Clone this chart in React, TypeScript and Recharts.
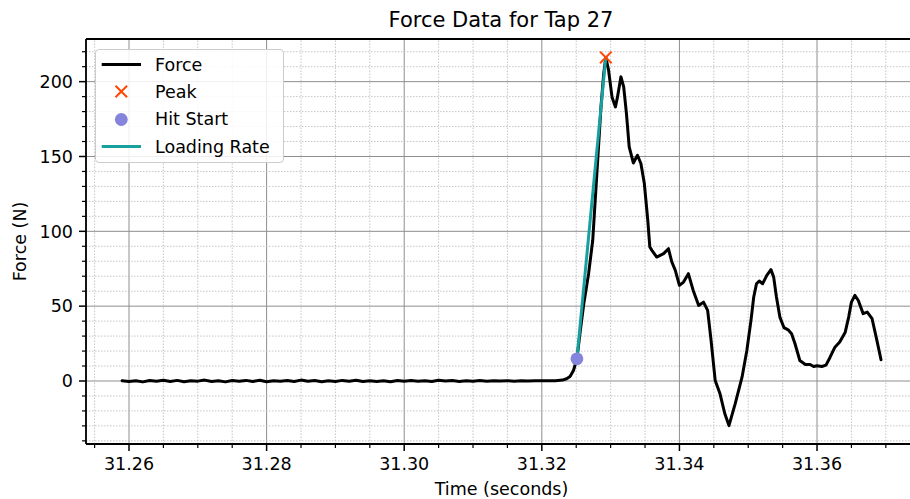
import React from 'react';
import { ComposedChart, Line, Scatter, XAxis, YAxis, CartesianGrid, ReferenceLine, Legend } from 'recharts';

const FONT = '"DejaVu Sans", sans-serif';

// force trace (time in s, force in N)
const forceTime = [
  31.259, 31.26, 31.261, 31.262, 31.263, 31.264, 31.265, 31.266, 31.267, 31.268,
  31.269, 31.27, 31.271, 31.272, 31.273, 31.274, 31.275, 31.276, 31.277, 31.278,
  31.279, 31.28, 31.281, 31.282, 31.283, 31.284, 31.285, 31.286, 31.287, 31.288,
  31.289, 31.29, 31.291, 31.292, 31.293, 31.294, 31.295, 31.296, 31.297, 31.298,
  31.299, 31.3, 31.301, 31.302, 31.303, 31.304, 31.305, 31.306, 31.307, 31.308,
  31.309, 31.31, 31.311, 31.312, 31.313, 31.314, 31.315, 31.316, 31.317, 31.318,
  31.319, 31.32, 31.321, 31.322, 31.323,
  31.3236, 31.3241, 31.3246, 31.3251, 31.3256, 31.3261, 31.3268, 31.3274, 31.3277, 31.328,
  31.3283, 31.3286, 31.329, 31.3293, 31.3297, 31.3302, 31.3307, 31.331, 31.3315, 31.3319,
  31.3323, 31.3327, 31.3333, 31.3339, 31.3344, 31.3349, 31.3354, 31.3357, 31.336, 31.3367,
  31.3377, 31.3384, 31.3389, 31.3394, 31.34, 31.3406, 31.3413, 31.342, 31.3428, 31.3435,
  31.3441, 31.3446, 31.3452, 31.3459, 31.3466, 31.3472, 31.3481, 31.3491, 31.3498, 31.3504,
  31.3508, 31.3512, 31.3516, 31.3521, 31.3527, 31.3533, 31.3537, 31.3541, 31.3546, 31.3552,
  31.3558, 31.3563, 31.3568, 31.3575, 31.3583, 31.359, 31.3595, 31.36, 31.3607, 31.3613,
  31.3619, 31.3626, 31.3633, 31.3641, 31.3646, 31.365, 31.3655, 31.366, 31.3667, 31.3673,
  31.368, 31.3687, 31.3693,
];
const forceValue = [
  0.2, -0.4, 0.1, -0.6, 0.3, -0.2, 0.5, -0.3, 0.4, -0.5,
  0.2, -0.1, 0.6, -0.4, 0.1, -0.6, 0.3, -0.2, 0.4, -0.3,
  0.5, -0.5, 0.2, -0.1, 0.3, -0.4, 0.6, -0.2, 0.3, -0.5,
  0.1, -0.3, 0.4, -0.2, 0.5, -0.4, 0.2, -0.3, 0.1, -0.5,
  0.3, -0.2, 0.4, -0.1, 0.2, -0.4, 0.5, 0.0, 0.3, -0.3,
  0.2, -0.2, 0.3, -0.1, 0.2, 0.0, 0.2, -0.1, 0.1, 0.0,
  0.2, 0.1, 0.1, 0.2, 0.6,
  1.5, 3.0, 7.0, 14.8, 33.8, 51.6, 71.7, 94.0, 116.3, 138.6,
  160.9, 183.1, 205.5, 216.2, 207.7, 189.8, 183.1, 189.8, 203.2, 196.5,
  178.7, 156.4, 145.7, 150.8, 145.3, 131.9, 107.4, 89.5, 87.3, 82.8,
  85.1, 88.4, 79.5, 73.9, 63.9, 66.1, 71.7, 60.5, 50.5, 52.7,
  47.2, 27.1, 0.3, -8.6, -21.9, -29.8, -15.3, 2.5, 20.4, 40.5,
  56.1, 65.0, 66.8, 65.0, 70.6, 74.4, 69.4, 56.1, 42.7, 35.6,
  34.2, 31.6, 24.9, 13.7, 11.0, 11.0, 9.7, 10.2, 9.7, 10.6,
  15.9, 22.6, 26.0, 32.6, 42.7, 52.7, 57.2, 53.8, 45.0, 46.0,
  41.6, 27.1, 14.2,
];

const peakTime = 31.3293;
const peakForce = 216.2;
const hitTime = 31.3251;
const hitForce = 14.8;

const xTicks = [31.26, 31.28, 31.3, 31.32, 31.34, 31.36];
const xMinorTicks = [
  31.255, 31.265, 31.27, 31.275, 31.285, 31.29, 31.295, 31.305, 31.31,
  31.315, 31.325, 31.33, 31.335, 31.345, 31.35, 31.355, 31.365, 31.37,
];
const yTicks = [0, 50, 100, 150, 200];
const yMinorTicks = [
  -40, -30, -20, -10, 10, 20, 30, 40, 60, 70, 80, 90, 110, 120, 130, 140,
  160, 170, 180, 190, 210, 220,
];

const xDomain: [number, number] = [31.25375, 31.37453];
const yDomain: [number, number] = [-42.1, 228.5];

const forceData = forceTime.map((t, i) => ({ time: t, force: forceValue[i] }));
const loadingData = [
  { time: hitTime, force: hitForce },
  { time: peakTime, force: peakForce },
];

const CHART_W = 930;
const CHART_H = 499;
const MARGIN = { top: 39, right: 13, bottom: 0, left: 0 };
const Y_AXIS_W = 86;
const X_AXIS_H = 55;
const PLOT_W = CHART_W - MARGIN.left - MARGIN.right - Y_AXIS_W;
const PLOT_H = CHART_H - MARGIN.top - MARGIN.bottom - X_AXIS_H;

// minor tick length (4px) expressed in data units
const xTickLen = (4 * (yDomain[1] - yDomain[0])) / PLOT_H;
const yTickLen = (4 * (xDomain[1] - xDomain[0])) / PLOT_W;

const TEAL = '#17a09e';
const ORANGE = '#ff4500';
const PURPLE = '#8484dc';

const PeakMark = (props: any) => {
  const { cx, cy } = props;
  if (cx == null || cy == null) return null;
  const s = 5.8;
  return (
    <g stroke={ORANGE} strokeWidth={2}>
      <line x1={cx - s} y1={cy - s} x2={cx + s} y2={cy + s} />
      <line x1={cx - s} y1={cy + s} x2={cx + s} y2={cy - s} />
    </g>
  );
};

const HitMark = (props: any) => {
  const { cx, cy } = props;
  if (cx == null || cy == null) return null;
  return <circle cx={cx} cy={cy} r={6.4} fill={PURPLE} />;
};

const legendItems = [
  { label: 'Force', kind: 'line', color: '#000' },
  { label: 'Peak', kind: 'x', color: ORANGE },
  { label: 'Hit Start', kind: 'dot', color: PURPLE },
  { label: 'Loading Rate', kind: 'line', color: TEAL },
];

const LegendBox = () => (
  <div
    style={{
      width: 189,
      height: 114,
      boxSizing: 'border-box',
      border: '1px solid #cccccc',
      borderRadius: 4,
      background: 'rgba(255,255,255,0.85)',
      fontFamily: FONT,
      fontSize: 17.5,
      paddingTop: 1,
      color: '#000',
    }}
  >
    {legendItems.map(item => (
      <div key={item.label} style={{ display: 'flex', alignItems: 'center', height: 27.3 }}>
        <svg width={59} height={27} style={{ flexShrink: 0 }}>
          {item.kind === 'line' && (
            <line x1={5.7} x2={45} y1={13.5} y2={13.5} stroke={item.color} strokeWidth={3} />
          )}
          {item.kind === 'x' && (
            <g stroke={item.color} strokeWidth={2}>
              <line x1={19.5} y1={7.7} x2={31.1} y2={19.3} />
              <line x1={19.5} y1={19.3} x2={31.1} y2={7.7} />
            </g>
          )}
          {item.kind === 'dot' && <circle cx={25.3} cy={13.5} r={6.4} fill={item.color} />}
        </svg>
        <span style={{ lineHeight: '20px' }}>{item.label}</span>
      </div>
    ))}
  </div>
);

const axisText = { fontFamily: FONT, fontSize: 17.5, fill: '#000' };

export default function App() {
  return (
    <div
      style={{
        position: 'absolute',
        left: 0,
        top: 0,
        width: 910,
        height: 499,
        overflow: 'hidden',
        background: '#fff',
      }}
    >
      <div
        style={{
          position: 'absolute',
          left: 301,
          width: 400,
          top: 6,
          height: 28,
          lineHeight: '28px',
          textAlign: 'center',
          fontFamily: FONT,
          fontSize: 21,
          color: '#000',
          zIndex: 2,
        }}
      >
        Force Data for Tap 27
      </div>
      <ComposedChart width={CHART_W} height={CHART_H} margin={MARGIN}>
        <CartesianGrid stroke="#8e8e8e" strokeWidth={1} />
        {xMinorTicks.map(v => (
          <ReferenceLine key={'gx' + v} x={v} stroke="#b8b8b8" strokeWidth={0.8} strokeDasharray="1.5 1.5" />
        ))}
        {yMinorTicks.map(v => (
          <ReferenceLine key={'gy' + v} y={v} stroke="#b8b8b8" strokeWidth={0.8} strokeDasharray="1.5 1.5" />
        ))}
        {xMinorTicks.map(v => (
          <ReferenceLine
            key={'tx' + v}
            segment={[{ x: v, y: yDomain[0] }, { x: v, y: yDomain[0] - xTickLen }]}
            stroke="#000"
            strokeWidth={1.2}
            ifOverflow="visible"
          />
        ))}
        {yMinorTicks.map(v => (
          <ReferenceLine
            key={'ty' + v}
            segment={[{ x: xDomain[0], y: v }, { x: xDomain[0] - yTickLen, y: v }]}
            stroke="#000"
            strokeWidth={1.2}
            ifOverflow="visible"
          />
        ))}
        <ReferenceLine y={yDomain[1]} stroke="#000" strokeWidth={1.8} />
        <XAxis
          dataKey="time"
          type="number"
          domain={xDomain}
          allowDataOverflow
          ticks={xTicks}
          tickFormatter={(v: number) => v.toFixed(2)}
          tick={axisText}
          tickSize={7}
          tickMargin={7}
          tickLine={{ stroke: '#000', strokeWidth: 1.5 }}
          axisLine={{ stroke: '#000', strokeWidth: 1.8 }}
          height={X_AXIS_H}
          label={{
            content: ({ viewBox }: any) => (
              <text
                x={viewBox.x + viewBox.width / 2}
                y={viewBox.y + 51}
                textAnchor="middle"
                style={axisText}
              >
                Time (seconds)
              </text>
            ),
          }}
        />
        <YAxis
          type="number"
          domain={yDomain}
          allowDataOverflow
          ticks={yTicks}
          tick={axisText}
          tickSize={7}
          tickMargin={6}
          tickLine={{ stroke: '#000', strokeWidth: 1.5 }}
          axisLine={{ stroke: '#000', strokeWidth: 1.8 }}
          width={Y_AXIS_W}
          label={{
            content: ({ viewBox }: any) => {
              const cy = viewBox.y + viewBox.height / 2;
              return (
                <text
                  x={26.4}
                  y={cy}
                  textAnchor="middle"
                  transform={`rotate(-90, 26.4, ${cy})`}
                  style={axisText}
                >
                  Force (N)
                </text>
              );
            },
          }}
        />
        <Line
          data={forceData}
          dataKey="force"
          type="linear"
          stroke="#000"
          strokeWidth={3}
          strokeLinejoin="round"
          strokeLinecap="round"
          dot={false}
          activeDot={false}
          isAnimationActive={false}
        />
        <Scatter
          data={[{ time: hitTime, force: hitForce }]}
          dataKey="force"
          shape={HitMark}
          isAnimationActive={false}
        />
        <Line
          data={loadingData}
          dataKey="force"
          type="linear"
          stroke={TEAL}
          strokeWidth={3}
          strokeLinecap="round"
          dot={false}
          activeDot={false}
          isAnimationActive={false}
        />
        <Scatter
          data={[{ time: peakTime, force: peakForce }]}
          dataKey="force"
          shape={PeakMark}
          isAnimationActive={false}
        />
        <Legend
          layout="vertical"
          align="center"
          verticalAlign="middle"
          content={() => <LegendBox />}
          wrapperStyle={{ left: 95, top: 49, width: 189, height: 114 }}
        />
      </ComposedChart>
    </div>
  );
}
